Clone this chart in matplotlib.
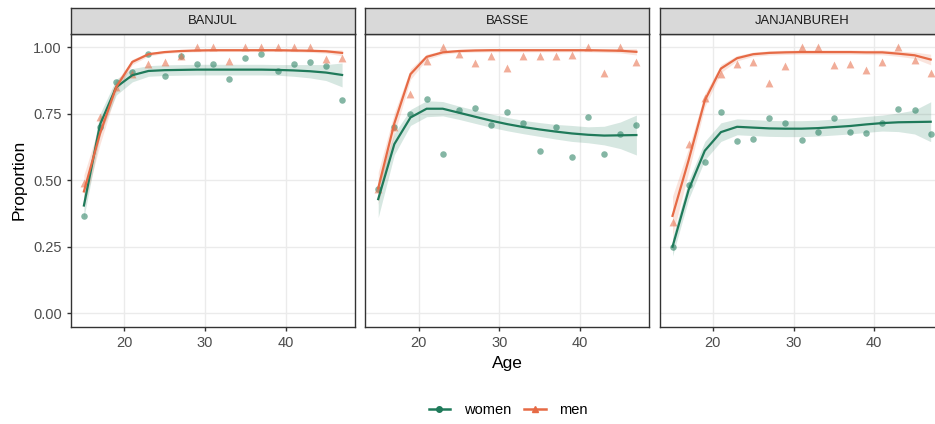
import matplotlib
matplotlib.use("Agg")
import matplotlib.pyplot as plt
from matplotlib.lines import Line2D

plt.rcParams['font.family'] = ['Liberation Sans', 'DejaVu Sans']

regions = ["BANJUL", "BASSE", "JANJANBUREH"]
ages = [15, 17, 19, 21, 23, 25, 27, 29, 31, 33, 35, 37, 39, 41, 43, 45, 47]

# observed proportions
women_obs = {
    "BANJUL": [0.365, 0.70, 0.871, 0.906, 0.976, 0.891, 0.968, 0.939, 0.938, 0.881,
               0.959, 0.976, 0.911, 0.939, 0.943, 0.928, 0.80],
    "BASSE": [0.466, 0.699, 0.75, 0.804, 0.60, 0.765, 0.77, 0.706, 0.758, 0.716,
              0.611, 0.70, 0.589, 0.739, 0.60, 0.674, 0.706],
    "JANJANBUREH": [0.248, 0.483, 0.569, 0.756, 0.648, 0.655, 0.733, 0.716, 0.651, 0.683,
                    0.734, 0.681, 0.676, 0.716, 0.769, 0.766, 0.675],
}
men_obs = {
    "BANJUL": [0.489, 0.736, 0.85, 0.90, 0.936, 0.944, 0.968, 1.0, 1.0, 0.95,
               1.0, 1.0, 1.0, 1.0, 1.0, 0.956, 0.96],
    "BASSE": [0.466, 0.70, 0.826, 0.949, 1.0, 0.974, 0.941, 0.968, 0.924, 0.968,
              0.968, 0.968, 0.971, 1.0, 0.904, 1.0, 0.944],
    "JANJANBUREH": [0.344, 0.636, 0.811, 0.899, 0.939, 0.944, 0.866, 0.929, 1.0, 1.0,
                    0.934, 0.938, 0.913, 0.944, 1.0, 0.951, 0.903],
}

# smoothed fits with confidence band
women_fit = {
    "BANJUL": [0.405, 0.71, 0.85, 0.895, 0.911, 0.914, 0.915, 0.916, 0.916, 0.916,
               0.916, 0.916, 0.915, 0.913, 0.91, 0.905, 0.896],
    "BASSE": [0.429, 0.636, 0.736, 0.769, 0.769, 0.754, 0.739, 0.724, 0.711, 0.70,
              0.691, 0.683, 0.676, 0.671, 0.668, 0.669, 0.67],
    "JANJANBUREH": [0.25, 0.464, 0.611, 0.681, 0.701, 0.698, 0.695, 0.694, 0.694, 0.696,
                    0.70, 0.704, 0.71, 0.715, 0.718, 0.719, 0.72],
}
women_lo = {
    "BANJUL": [0.36, 0.67, 0.82, 0.87, 0.891, 0.894, 0.895, 0.896, 0.896, 0.896,
               0.896, 0.896, 0.895, 0.891, 0.885, 0.875, 0.851],
    "BASSE": [0.36, 0.596, 0.706, 0.739, 0.742, 0.729, 0.714, 0.699, 0.686, 0.675,
              0.665, 0.655, 0.646, 0.641, 0.633, 0.619, 0.595],
    "JANJANBUREH": [0.215, 0.429, 0.576, 0.646, 0.671, 0.668, 0.665, 0.664, 0.664, 0.666,
                    0.67, 0.674, 0.68, 0.685, 0.683, 0.674, 0.645],
}
women_hi = {
    "BANJUL": [0.45, 0.75, 0.88, 0.92, 0.931, 0.934, 0.935, 0.936, 0.936, 0.936,
               0.936, 0.936, 0.935, 0.935, 0.935, 0.935, 0.941],
    "BASSE": [0.50, 0.676, 0.766, 0.799, 0.796, 0.779, 0.764, 0.749, 0.736, 0.725,
              0.717, 0.71, 0.706, 0.701, 0.703, 0.719, 0.745],
    "JANJANBUREH": [0.285, 0.499, 0.646, 0.716, 0.731, 0.728, 0.725, 0.724, 0.724, 0.726,
                    0.73, 0.734, 0.74, 0.745, 0.753, 0.764, 0.795],
}
men_fit = {
    "BANJUL": [0.458, 0.676, 0.85, 0.945, 0.974, 0.982, 0.986, 0.988, 0.989, 0.989,
               0.989, 0.989, 0.989, 0.988, 0.987, 0.985, 0.979],
    "BASSE": [0.47, 0.714, 0.899, 0.964, 0.981, 0.986, 0.988, 0.989, 0.989, 0.989,
              0.989, 0.989, 0.989, 0.989, 0.988, 0.987, 0.983],
    "JANJANBUREH": [0.366, 0.576, 0.80, 0.92, 0.959, 0.974, 0.979, 0.981, 0.982, 0.982,
                    0.982, 0.982, 0.981, 0.981, 0.976, 0.97, 0.954],
}
men_lo = {
    "BANJUL": [0.40, 0.636, 0.83, 0.935, 0.967, 0.977, 0.981, 0.983, 0.984, 0.984,
               0.984, 0.984, 0.984, 0.983, 0.981, 0.978, 0.968],
    "BASSE": [0.41, 0.674, 0.879, 0.954, 0.974, 0.98, 0.982, 0.983, 0.983, 0.983,
              0.983, 0.983, 0.983, 0.983, 0.981, 0.979, 0.971],
    "JANJANBUREH": [0.29, 0.531, 0.775, 0.905, 0.949, 0.966, 0.971, 0.973, 0.974, 0.974,
                    0.974, 0.974, 0.973, 0.972, 0.966, 0.958, 0.934],
}
men_hi = {
    "BANJUL": [0.52, 0.716, 0.87, 0.955, 0.981, 0.987, 0.991, 0.993, 0.994, 0.994,
               0.994, 0.994, 0.994, 0.993, 0.993, 0.992, 0.99],
    "BASSE": [0.53, 0.754, 0.919, 0.974, 0.988, 0.992, 0.994, 0.995, 0.995, 0.995,
              0.995, 0.995, 0.995, 0.995, 0.995, 0.995, 0.995],
    "JANJANBUREH": [0.44, 0.621, 0.825, 0.935, 0.969, 0.982, 0.987, 0.989, 0.99, 0.99,
                    0.99, 0.99, 0.989, 0.99, 0.986, 0.982, 0.974],
}

yticks = [0.0, 0.25, 0.5, 0.75, 1.0]
xticks = [20, 30, 40]

col_w = "#1f7a5a"
col_m = "#e66a45"
W, H = 935, 424

fig = plt.figure(figsize=(W / 100, H / 100), dpi=100)

panel_left = [71, 365.3, 659.6]
panel_w = 284
plot_top, plot_bot = 34, 326.5
strip_top = 8

for i, reg in enumerate(regions):
    x0 = panel_left[i]
    ax = fig.add_axes([x0 / W, 1 - plot_bot / H, panel_w / W, (plot_bot - plot_top) / H])
    ax.set_xlim(13.4, 48.6)
    ax.set_ylim(-0.05, 1.05)
    ax.set_xticks(xticks)
    ax.set_yticks(yticks)
    ax.grid(True, color="#ebebeb", linewidth=1.0, zorder=0)
    ax.set_axisbelow(True)
    for s in ax.spines.values():
        s.set_color("#333333")
        s.set_linewidth(1.0)
    ax.tick_params(colors="#333333", labelcolor="#4d4d4d", length=3, width=1,
                   labelsize=10.5, pad=3.5)
    if i == 0:
        ax.set_yticklabels([f"{v:.2f}" for v in yticks])
        ax.set_ylabel("Proportion", fontsize=12.5, color="black", labelpad=5)
    else:
        ax.tick_params(axis="y", left=False, labelleft=False)
    if i == 1:
        ax.set_xlabel("Age", fontsize=12.5, color="black", labelpad=5)

    ax.fill_between(ages, women_lo[reg], women_hi[reg], color=col_w, alpha=0.18, lw=0, zorder=2)
    ax.fill_between(ages, men_lo[reg], men_hi[reg], color=col_m, alpha=0.18, lw=0, zorder=2)
    ax.scatter(ages, women_obs[reg], s=22, color=col_w, alpha=0.55, lw=0, marker="o", zorder=3)
    ax.scatter(ages, men_obs[reg], s=32, color=col_m, alpha=0.55, lw=0, marker="^", zorder=3)
    ax.plot(ages, women_fit[reg], color=col_w, lw=1.6, zorder=4)
    ax.plot(ages, men_fit[reg], color=col_m, lw=1.6, zorder=4)

    # facet strip
    sax = fig.add_axes([x0 / W, 1 - plot_top / H, panel_w / W, (plot_top - strip_top) / H])
    sax.set_facecolor("#d9d9d9")
    sax.set_xticks([])
    sax.set_yticks([])
    for s in sax.spines.values():
        s.set_color("#333333")
        s.set_linewidth(1.0)
    sax.text(0.5, 0.5, reg, ha="center", va="center", fontsize=9.4, color="#1a1a1a",
             transform=sax.transAxes)

handles = [
    Line2D([], [], color=col_w, lw=1.8, marker="o", markersize=4),
    Line2D([], [], color=col_m, lw=1.8, marker="^", markersize=4.5),
]
fig.legend(handles, ["women", "men"], loc="center", bbox_to_anchor=(508 / W, 1 - 410 / H),
           ncol=2, frameon=False, fontsize=10.5, handlelength=1.5, columnspacing=0.9,
           handletextpad=0.9)

fig.savefig("out.png", dpi=100)
